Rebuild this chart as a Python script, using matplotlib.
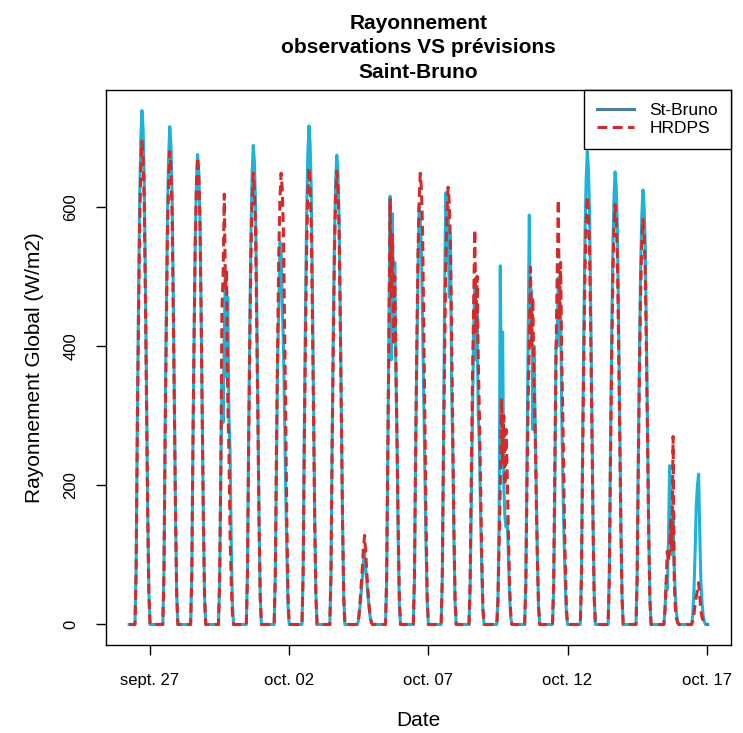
import numpy as np
import matplotlib.pyplot as plt
from matplotlib.lines import Line2D

plt.rcParams['font.family'] = ['Liberation Sans', 'DejaVu Sans']

# hourly radiation (W/m2), one row per day (sept. 26 .. oct. 16), hours 12h..23h UTC
# the other hours of each day are 0
obs = [
    [83, 286, 457, 605, 697, 738, 712, 640, 498, 335, 164, 47],
    [79, 279, 443, 586, 672, 715, 690, 622, 479, 322, 157, 43],
    [74, 263, 419, 554, 635, 675, 651, 587, 452, 304, 149, 40],
    [60, 218, 350, 290, 420, 503, 355, 470, 300, 250, 120, 30],
    [76, 268, 427, 564, 647, 688, 664, 599, 461, 310, 151, 41],
    [70, 230, 380, 457, 549, 540, 460, 400, 300, 190, 100, 25],
    [79, 279, 444, 587, 673, 716, 691, 623, 480, 322, 158, 43],
    [74, 263, 418, 553, 634, 674, 650, 586, 452, 303, 148, 40],
    [10, 25, 45, 65, 90, 105, 80, 60, 40, 22, 8, 2],
    [60, 250, 450, 615, 380, 590, 420, 520, 360, 260, 120, 25],
    [66, 240, 380, 500, 600, 580, 540, 430, 320, 210, 110, 30],
    [68, 250, 480, 620, 520, 600, 470, 560, 350, 250, 130, 30],
    [50, 170, 300, 420, 493, 380, 450, 300, 260, 160, 80, 20],
    [40, 150, 515, 300, 420, 200, 154, 140, 150, 100, 40, 10],
    [60, 230, 406, 588, 430, 480, 280, 400, 300, 200, 100, 25],
    [50, 180, 396, 420, 498, 400, 460, 300, 200, 120, 60, 15],
    [75, 265, 421, 557, 638, 679, 655, 591, 455, 306, 149, 41],
    [72, 254, 403, 533, 611, 650, 627, 566, 436, 293, 143, 39],
    [69, 243, 387, 512, 587, 624, 602, 543, 418, 281, 137, 37],
    [20, 60, 50, 120, 228, 180, 100, 150, 80, 40, 15, 5],
    [15, 50, 105, 172, 200, 216, 130, 60, 30, 12, 4, 0],
]

hrdps = [
    [76, 271, 430, 569, 652, 694, 670, 604, 465, 312, 153, 42],
    [75, 265, 421, 557, 638, 679, 655, 591, 455, 306, 149, 41],
    [74, 262, 416, 550, 631, 671, 648, 584, 450, 302, 148, 40],
    [65, 220, 452, 500, 618, 480, 508, 320, 250, 130, 60, 15],
    [71, 253, 402, 531, 609, 648, 625, 564, 434, 292, 143, 39],
    [71, 253, 402, 531, 609, 648, 625, 564, 434, 292, 143, 39],
    [72, 256, 407, 538, 617, 656, 633, 571, 440, 295, 144, 39],
    [72, 254, 404, 534, 612, 651, 628, 566, 436, 293, 143, 39],
    [10, 30, 55, 80, 110, 128, 100, 70, 45, 25, 10, 2],
    [67, 238, 420, 610, 470, 560, 400, 500, 380, 270, 134, 37],
    [71, 253, 402, 531, 609, 648, 625, 564, 434, 292, 143, 39],
    [69, 245, 389, 515, 590, 628, 606, 546, 421, 283, 138, 38],
    [62, 221, 350, 460, 567, 420, 500, 380, 300, 200, 100, 25],
    [35, 120, 200, 325, 230, 300, 200, 280, 210, 130, 60, 15],
    [56, 200, 318, 420, 513, 400, 470, 350, 280, 180, 90, 25],
    [60, 230, 380, 500, 610, 440, 520, 380, 290, 180, 90, 25],
    [68, 240, 381, 504, 578, 615, 593, 535, 412, 277, 135, 37],
    [66, 235, 374, 494, 567, 603, 582, 525, 404, 271, 133, 36],
    [64, 227, 361, 477, 547, 582, 562, 506, 390, 262, 128, 35],
    [20, 60, 105, 90, 110, 150, 105, 270, 60, 20, 8, 2],
    [5, 15, 30, 40, 50, 60, 40, 20, 10, 5, 2, 0],
]

tick_days = [1, 6, 11, 16, 21]
tick_labels = ["sept. 27", "oct. 02", "oct. 07", "oct. 12", "oct. 17"]


def hourly(rows):
    full = []
    for r in rows:
        full += [0] * 12 + list(r)
    full += [0, 0]          # oct. 17 00h, 01h
    return np.array(full[6:], dtype=float)   # starts sept. 26 06h


y_obs = hourly(obs)
y_mod = hourly(hrdps)
t = (np.arange(len(y_obs)) + 6) / 24.0    # days since sept. 26 00h

blue = '#1db2d8'
red = '#d42a2a'
dash = (0, (3.2, 1.8))

fig = plt.figure(figsize=(7.43, 7.33), dpi=100)
ax = fig.add_axes([0.1427, 0.120, 0.8412, 0.7572])

ax.plot(t, y_obs, color=blue, lw=2.2)
ax.plot(t, y_mod, color=red, lw=2.2, linestyle=dash)

span = t[-1] - t[0]
ax.set_xlim(t[0] - 0.04 * span, t[-1] + 0.04 * span)
ymax = max(y_obs.max(), y_mod.max())
ax.set_ylim(-0.04 * ymax, ymax * 1.04)

ax.set_xticks(tick_days)
ax.set_xticklabels(tick_labels)
ax.set_yticks([0, 200, 400, 600])
ax.set_yticklabels(["0", "200", "400", "600"], rotation=90, va='center')
ax.tick_params(labelsize=12, length=7, width=1)
ax.tick_params(axis='x', pad=13)
ax.tick_params(axis='y', pad=13)
for s in ax.spines.values():
    s.set_linewidth(1)

ax.set_xlabel("Date", fontsize=15, labelpad=17)
ax.set_ylabel("Rayonnement Global (W/m2)", fontsize=15, labelpad=14)
ax.set_title("Rayonnement\nobservations VS prévisions\nSaint-Bruno",
             fontsize=15, fontweight='bold', pad=9, linespacing=1.35)

handles = [Line2D([], [], color='#4d7ea0', lw=2.2),
           Line2D([], [], color=red, lw=2.2, linestyle=dash)]
leg = ax.legend(handles, ["St-Bruno", "HRDPS"], loc='upper right',
                borderaxespad=0, fancybox=False, edgecolor='black',
                framealpha=1, fontsize=12.5, handlelength=2.1,
                borderpad=0.75, labelspacing=0.15, handletextpad=0.9)
leg.get_frame().set_linewidth(1)

fig.savefig("out.png", dpi=100)
